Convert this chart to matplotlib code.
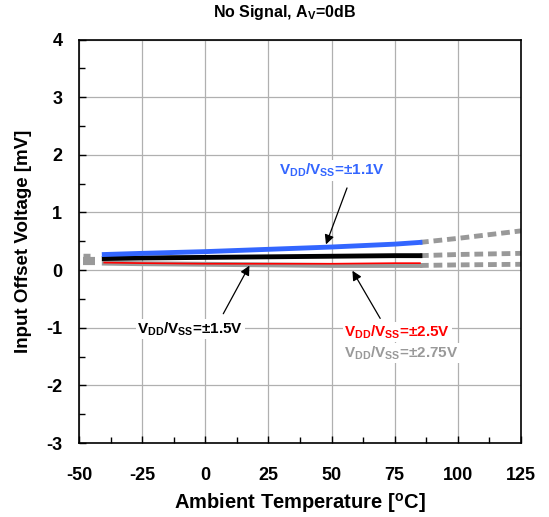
import matplotlib
matplotlib.use("Agg")
import matplotlib.pyplot as plt
from matplotlib.ticker import MultipleLocator

plt.rcParams['font.family'] = ['Liberation Sans', 'DejaVu Sans']
plt.rcParams['font.weight'] = 'bold'
plt.rcParams['axes.labelweight'] = 'bold'
plt.rcParams['axes.unicode_minus'] = False
plt.rcParams['mathtext.fontset'] = 'custom'
plt.rcParams['mathtext.rm'] = 'Liberation Sans:bold'
plt.rcParams['mathtext.bf'] = 'Liberation Sans:bold'

# measured range (-40..85 degC)
temp = [-40, -25, 0, 25, 50, 75, 85]
v11 = [0.27, 0.29, 0.32, 0.36, 0.40, 0.45, 0.48]
v15 = [0.20, 0.21, 0.22, 0.23, 0.24, 0.25, 0.25]
v25 = [0.13, 0.12, 0.11, 0.11, 0.11, 0.12, 0.12]
v275 = [0.12, 0.11, 0.10, 0.09, 0.08, 0.08, 0.08]

# dashed extrapolation (85..125 degC) and stubs near -50 degC
temp_hi = [85, 100, 125]
ext11_hi = [0.48, 0.55, 0.68]
ext15_hi = [0.25, 0.27, 0.29]
ext275_hi = [0.08, 0.09, 0.10]
temp_lo = [-48.5, -45.5]
temp_lo2 = [-48.5, -43.5]
ext11_lo = [0.27, 0.27]
ext15_lo = [0.19, 0.19]
ext275_lo = [0.12, 0.12]

fig = plt.figure(figsize=(5.49, 5.17), dpi=100)
ax = fig.add_axes([79/549, 1-443/517, 442/549, 403.5/517])

dash = dict(color='#999999', lw=3.5, linestyle=(0, (1.8, 1.0)), solid_capstyle='butt')
for y in (ext11_hi, ext15_hi, ext275_hi):
    ax.plot(temp_hi, y, **dash)
ax.plot(temp_lo, ext11_lo, color='#999999', lw=2.5, solid_capstyle='butt')
for y in (ext15_lo, ext275_lo):
    ax.plot(temp_lo2, y, color='#999999', lw=3, solid_capstyle='butt')

ax.plot(temp, v275, color='#999999', lw=3.5)
ax.plot(temp, v25, color='#ff0000', lw=1.2)
ax.plot(temp, v15, color='#000000', lw=3.5)
ax.plot(temp, v11, color='#3366ff', lw=3.5)

ax.set_xlim(-50, 125)
ax.set_ylim(-3, 4)
ax.xaxis.set_major_locator(MultipleLocator(25))
ax.xaxis.set_minor_locator(MultipleLocator(12.5))
ax.yaxis.set_major_locator(MultipleLocator(1))
ax.yaxis.set_minor_locator(MultipleLocator(0.5))
ax.tick_params(which='both', direction='in', top=False, right=False, width=1)
ax.tick_params(which='major', length=5, labelsize=13)
ax.tick_params(axis='x', which='major', pad=17)
ax.tick_params(axis='y', which='major', pad=12)
ax.tick_params(which='minor', length=4)
ax.grid(True, which='major', color='#b0b0b0', lw=0.9)
ax.set_axisbelow(True)
for sp in ax.spines.values():
    sp.set_linewidth(1.2)

ax.set_xlabel(r'Ambient Temperature [$^{\mathbf{o}}$C]', fontsize=14.5, labelpad=5)
ax.set_ylabel('Input Offset Voltage [mV]', fontsize=13.5, labelpad=10)
fig.text(285/549, 1-12/517, r'No Signal, A$_{\mathbf{V}}$=0dB', fontsize=11.5,
         ha='center', va='center')

box = dict(facecolor='white', edgecolor='none', pad=1)
arrow = dict(arrowstyle='-|>', color='black', lw=0.9, mutation_scale=14)
label_kw = dict(fontsize=11, ha='center', va='center', bbox=box)

ax.text(50.3, 1.73, r'V$_{\mathbf{DD}}$/V$_{\mathbf{SS}}$=±1.1V', color='#3366ff', **label_kw)
ax.annotate('', xy=(47.4, 0.40), xytext=(56.5, 1.47), arrowprops=arrow)

ax.text(-6, -1.02, r'V$_{\mathbf{DD}}$/V$_{\mathbf{SS}}$=±1.5V', color='black', **label_kw)
ax.annotate('', xy=(18, 0.12), xytext=(6.6, -0.80), arrowprops=arrow)

ax.text(76, -1.07, r'V$_{\mathbf{DD}}$/V$_{\mathbf{SS}}$=±2.5V', color='#ff0000', **label_kw)
ax.annotate('', xy=(57.7, 0.03), xytext=(69.8, -0.88), arrowprops=arrow)

ax.text(77.6, -1.44, r'V$_{\mathbf{DD}}$/V$_{\mathbf{SS}}$=±2.75V', color='#999999', **label_kw)

fig.savefig('out.png', dpi=100)
